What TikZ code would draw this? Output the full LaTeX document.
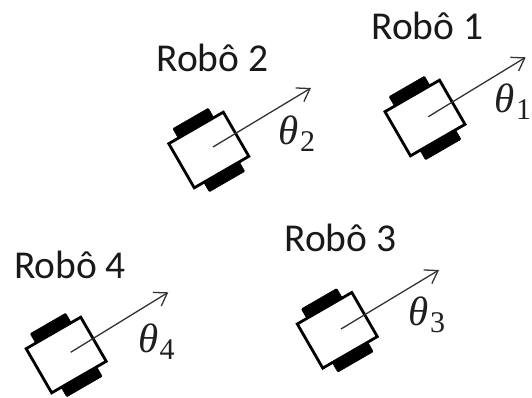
\documentclass[tikz,border=0pt]{standalone}
\usepackage{fontspec}
\setmainfont{Carlito}
\newfontfamily\thetafont{Liberation Serif}[ItalicFont=Liberation Serif Italic]
\usetikzlibrary{arrows.meta}
\tikzset{
  chassis/.style={draw=black,fill=white,line width=2.8pt,line join=miter},
  wheel/.style={fill=black,draw=black,line width=0.5pt,rounded corners=1pt},
  heading/.style={draw=black!80,line width=1.3pt,-{Straight Barb[length=12pt,width=16pt,line width=1.3pt]}},
  roblabel/.style={font=\fontsize{39.5}{43}\selectfont,text=black!90,inner sep=0pt},
  anglelabel/.style={font=\thetafont\fontsize{41}{44}\selectfont,text=black!88,inner sep=0pt}
}
\newcommand{\robotshape}[7]{%
  \begin{scope}[shift={(#2,#3)},rotate=30]
    \fill[wheel] (-20.5,-36.5) rectangle (20.5,-24);
    \fill[wheel] (-20.5,24) rectangle (20.5,36.5);
    \draw[chassis] (-31.5,-25.5) rectangle (31.5,25.5);
  \end{scope}
  \coordinate (s#1) at (#4,#5);
  \coordinate (e#1) at (#6,#7);
  \draw[heading] (s#1) -- (e#1);
}
\newcommand{\thetalabel}[1]{\textit{θ}\hspace{1pt}\raisebox{-0.17em}{\fontsize{30}{32}\selectfont #1}}
\begin{document}
\begin{tikzpicture}[x=1pt,y=-1pt]
\useasboundingbox (0,0) rectangle (532,398);
\robotshape{a}{425}{118}{428.3}{116.7}{525.7}{57.3}
\robotshape{b}{208.8}{150}{213}{147}{311}{88}
\robotshape{c}{337.3}{330.3}{341}{329}{439}{270}
\robotshape{d}{66.2}{355}{70.7}{352.3}{168.3}{292.3}
\node[roblabel] (l1) at (427.5,26) {Robô 1};
\node[roblabel] (l2) at (212.5,58) {Robô 2};
\node[roblabel] (l3) at (340.5,237.5) {Robô 3};
\node[roblabel] (l4) at (70,264.5) {Robô 4};
\node[anglelabel] (t1) at (513,102) {\thetalabel{1}};
\node[anglelabel] (t2) at (297,134) {\thetalabel{2}};
\node[anglelabel] (t3) at (427,315) {\thetalabel{3}};
\node[anglelabel] (t4) at (156.5,342) {\thetalabel{4}};
\end{tikzpicture}
\end{document}
